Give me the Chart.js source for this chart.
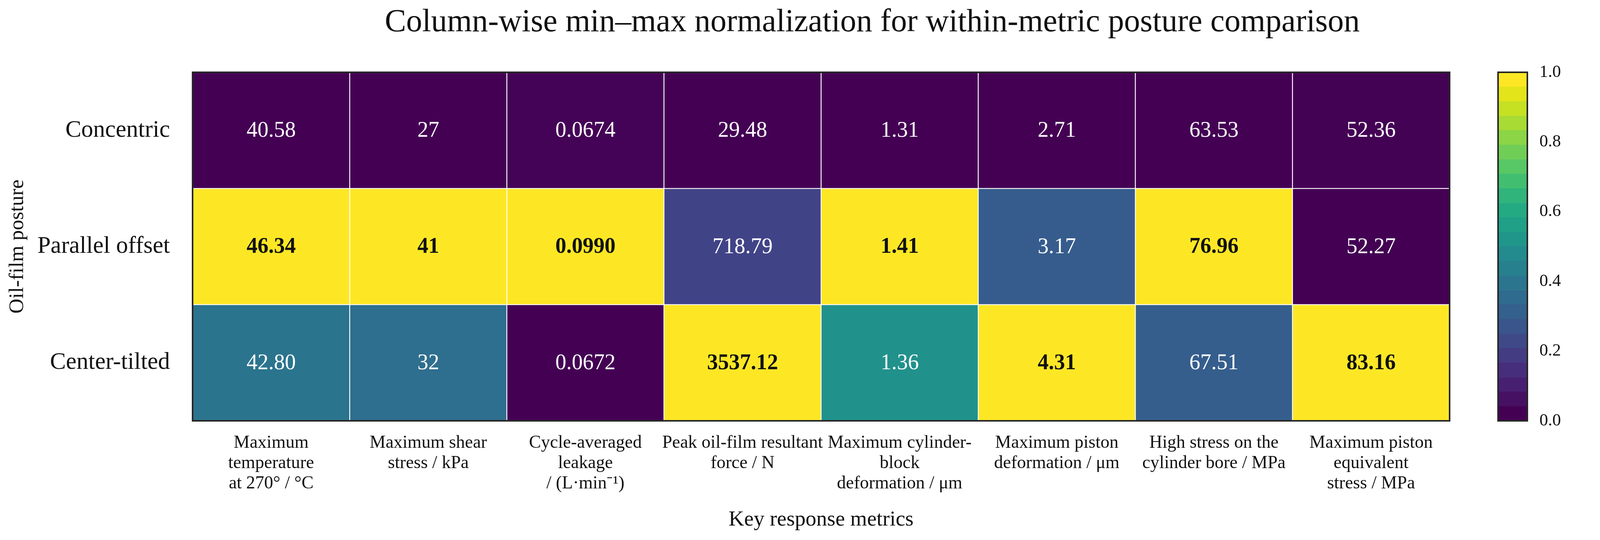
<!DOCTYPE html>
<html>
<head>
<meta charset="utf-8">
<title>Column-wise min–max normalization</title>
<script src="https://cdn.jsdelivr.net/npm/chart.js@4.4.1/dist/chart.umd.min.js"></script>
<style>
    html, body { margin: 0; padding: 0; background: #ffffff; }
    #wrap { position: relative; width: 4222px; height: 1382px; overflow: hidden; }
    .box { position: absolute; top: 0; height: 1382px; }
</style>
</head>
<body>
<div id="wrap">
    <div class="box" style="left:0; width:3760px;"><canvas id="heatChart"></canvas></div>
    <div class="box" style="left:3760px; width:462px;"><canvas id="barChart"></canvas></div>
</div>
<script>
// rows of the heatmap
const postures = ["Concentric", "Parallel offset", "Center-tilted"];

// column labels (multi-line)
const metricLabels = [
    ["Maximum", "temperature", "at 270° / °C"],
    ["Maximum shear", "stress / kPa"],
    ["Cycle-averaged", "leakage", "/ (L·min⁻¹)"],
    ["Peak oil-film resultant", "force / N"],
    ["Maximum cylinder-", "block", "deformation / μm"],
    ["Maximum piston", "deformation / μm"],
    ["High stress on the", "cylinder bore / MPa"],
    ["Maximum piston", "equivalent", "stress / MPa"]
];

// raw values per metric, order = postures
const maxTemperature = [40.58, 46.34, 42.80];
const maxShearStress = [27, 41, 32];
const leakage = [0.0674, 0.0990, 0.0672];
const peakFilmForce = [29.48, 718.79, 3537.12];
const cylinderDeformation = [1.31, 1.41, 1.36];
const pistonDeformation = [2.71, 3.17, 4.31];
const boreStress = [63.53, 76.96, 67.51];
const pistonStress = [52.36, 52.27, 83.16];

const decimals = [2, 0, 4, 2, 2, 2, 2, 2];

// colorbar
const colorbarTicks = [0.0, 0.2, 0.4, 0.6, 0.8, 1.0];
const colorbarLevels = 24;

const columns = [maxTemperature, maxShearStress, leakage, peakFilmForce,
    cylinderDeformation, pistonDeformation, boreStress, pistonStress];

const SERIF = "'Liberation Serif', 'Times New Roman', serif";
const INK = "#111111";

// viridis lookup
const viridisStops = ["#440154", "#471365", "#482475", "#463480", "#414487", "#3b528b",
    "#355f8d", "#2f6c8e", "#2a788e", "#25848e", "#21918c", "#1e9c89", "#22a884",
    "#2fb47c", "#44bf70", "#5ec962", "#7ad151", "#9bd93c", "#bddf26", "#dfe318", "#fde725"];

function hexToRgb(h) {
    return [parseInt(h.slice(1, 3), 16), parseInt(h.slice(3, 5), 16), parseInt(h.slice(5, 7), 16)];
}

function viridis(t) {
    t = Math.min(1, Math.max(0, t));
    const pos = t * (viridisStops.length - 1);
    const i = Math.min(Math.floor(pos), viridisStops.length - 2);
    const f = pos - i;
    const a = hexToRgb(viridisStops[i]);
    const b = hexToRgb(viridisStops[i + 1]);
    const c = a.map((v, k) => Math.round(v + (b[k] - v) * f));
    return `rgb(${c[0]}, ${c[1]}, ${c[2]})`;
}

// column-wise min-max normalization
const normalized = columns.map(col => {
    const lo = Math.min(...col);
    const hi = Math.max(...col);
    return col.map(v => (v - lo) / (hi - lo));
});

const heatDatasets = postures.map((name, r) => ({
    label: name,
    data: columns.map(() => [r, r + 1]),
    backgroundColor: columns.map((c, j) => viridis(normalized[j][r])),
    borderColor: "#ffffff",
    borderWidth: 1.5,
    borderSkipped: false,
    grouped: false,
    barPercentage: 1,
    categoryPercentage: 1
}));

// cell annotations: bold black for the column maximum, white otherwise
const cellLabels = {
    id: "cellLabels",
    afterDatasetsDraw(chart) {
        const ctx = chart.ctx;
        ctx.save();
        ctx.textAlign = "center";
        ctx.textBaseline = "middle";
        chart.data.datasets.forEach((ds, r) => {
            chart.getDatasetMeta(r).data.forEach((bar, j) => {
                const value = columns[j][r];
                const isMax = value === Math.max(...columns[j]);
                ctx.font = (isMax ? "bold " : "") + "56px " + SERIF;
                ctx.fillStyle = isMax ? INK : "#ffffff";
                ctx.fillText(value.toFixed(decimals[j]), bar.x, (bar.y + bar.base) / 2 + 2);
            });
        });
        ctx.restore();
    }
};

// dark frame around the plot area
const frame = {
    id: "frame",
    afterDatasetsDraw(chart) {
        const a = chart.chartArea;
        const ctx = chart.ctx;
        ctx.save();
        ctx.strokeStyle = "#262626";
        ctx.lineWidth = 4;
        ctx.strokeRect(a.left, a.top, a.right - a.left, a.bottom - a.top);
        ctx.restore();
    }
};

const figureTitle = {
    id: "figureTitle",
    afterDraw(chart) {
        const ctx = chart.ctx;
        ctx.save();
        ctx.font = "82px " + SERIF;
        ctx.fillStyle = INK;
        ctx.textAlign = "center";
        ctx.textBaseline = "alphabetic";
        ctx.fillText("Column-wise min–max normalization for within-metric posture comparison", 2233, 80);
        ctx.restore();
    }
};

new Chart(document.getElementById("heatChart"), {
    type: "bar",
    data: { labels: metricLabels, datasets: heatDatasets },
    options: {
        responsive: true,
        maintainAspectRatio: false,
        animation: false,
        layout: { padding: { top: 185, right: 49, bottom: 0, left: 0 } },
        plugins: { legend: { display: false }, tooltip: { enabled: false } },
        scales: {
            x: {
                type: "category",
                grid: { display: false, drawTicks: false },
                border: { display: false },
                ticks: {
                    color: INK, font: { family: SERIF, size: 46, lineHeight: 1.13 },
                    padding: 31, maxRotation: 0, minRotation: 0, autoSkip: false
                },
                title: {
                    display: true, text: "Key response metrics", color: INK,
                    font: { family: SERIF, size: 55 }, padding: { top: 0, bottom: 18 }
                },
                afterFit(scale) { scale.height = 305; }
            },
            y: {
                type: "linear", min: 0, max: 3, reverse: true,
                grid: { display: false, drawTicks: false },
                border: { display: false },
                afterBuildTicks(scale) {
                    scale.ticks = postures.map((p, i) => ({ value: i + 0.5 }));
                },
                ticks: {
                    color: INK, font: { family: SERIF, size: 61 }, padding: 58,
                    callback: v => postures[Math.floor(v)]
                },
                title: {
                    display: true, text: "Oil-film posture", color: INK,
                    font: { family: SERIF, size: 53 }, padding: { top: 13, bottom: 0 }
                },
                afterFit(scale) { scale.width = 493; }
            }
        }
    },
    plugins: [cellLabels, frame, figureTitle]
});

// colorbar: discrete viridis bands
const bandDatasets = [];
for (let k = 0; k < colorbarLevels; k++) {
    bandDatasets.push({
        data: [[k / colorbarLevels, (k + 1) / colorbarLevels]],
        backgroundColor: viridis(k / (colorbarLevels - 1)),
        borderWidth: 0,
        grouped: false,
        barPercentage: 1,
        categoryPercentage: 1
    });
}

const barTitle = {
    id: "barTitle",
    afterDraw(chart) {
        const a = chart.chartArea;
        const ctx = chart.ctx;
        ctx.save();
        ctx.translate(416, (a.top + a.bottom) / 2);
        ctx.rotate(-Math.PI / 2);
        ctx.font = "46px " + SERIF;
        ctx.fillStyle = INK;
        ctx.textAlign = "center";
        ctx.textBaseline = "middle";
        ctx.fillText("Normalized intensity", 0, 0);
        ctx.restore();
    }
};

new Chart(document.getElementById("barChart"), {
    type: "bar",
    data: { labels: ["scale"], datasets: bandDatasets },
    options: {
        responsive: true,
        maintainAspectRatio: false,
        animation: false,
        layout: { padding: { top: 185, right: 0, bottom: 305, left: 75 } },
        plugins: { legend: { display: false }, tooltip: { enabled: false } },
        scales: {
            x: { display: false },
            y: {
                type: "linear", position: "right", min: 0, max: 1,
                grid: { display: false, drawTicks: false },
                border: { display: false },
                afterBuildTicks(scale) {
                    scale.ticks = colorbarTicks.map(v => ({ value: v }));
                },
                ticks: {
                    color: INK, font: { family: SERIF, size: 44 }, padding: 31,
                    callback: v => v.toFixed(1)
                },
                afterFit(scale) { scale.width = 312; }
            }
        }
    },
    plugins: [frame, barTitle]
});
</script>
</body>
</html>
